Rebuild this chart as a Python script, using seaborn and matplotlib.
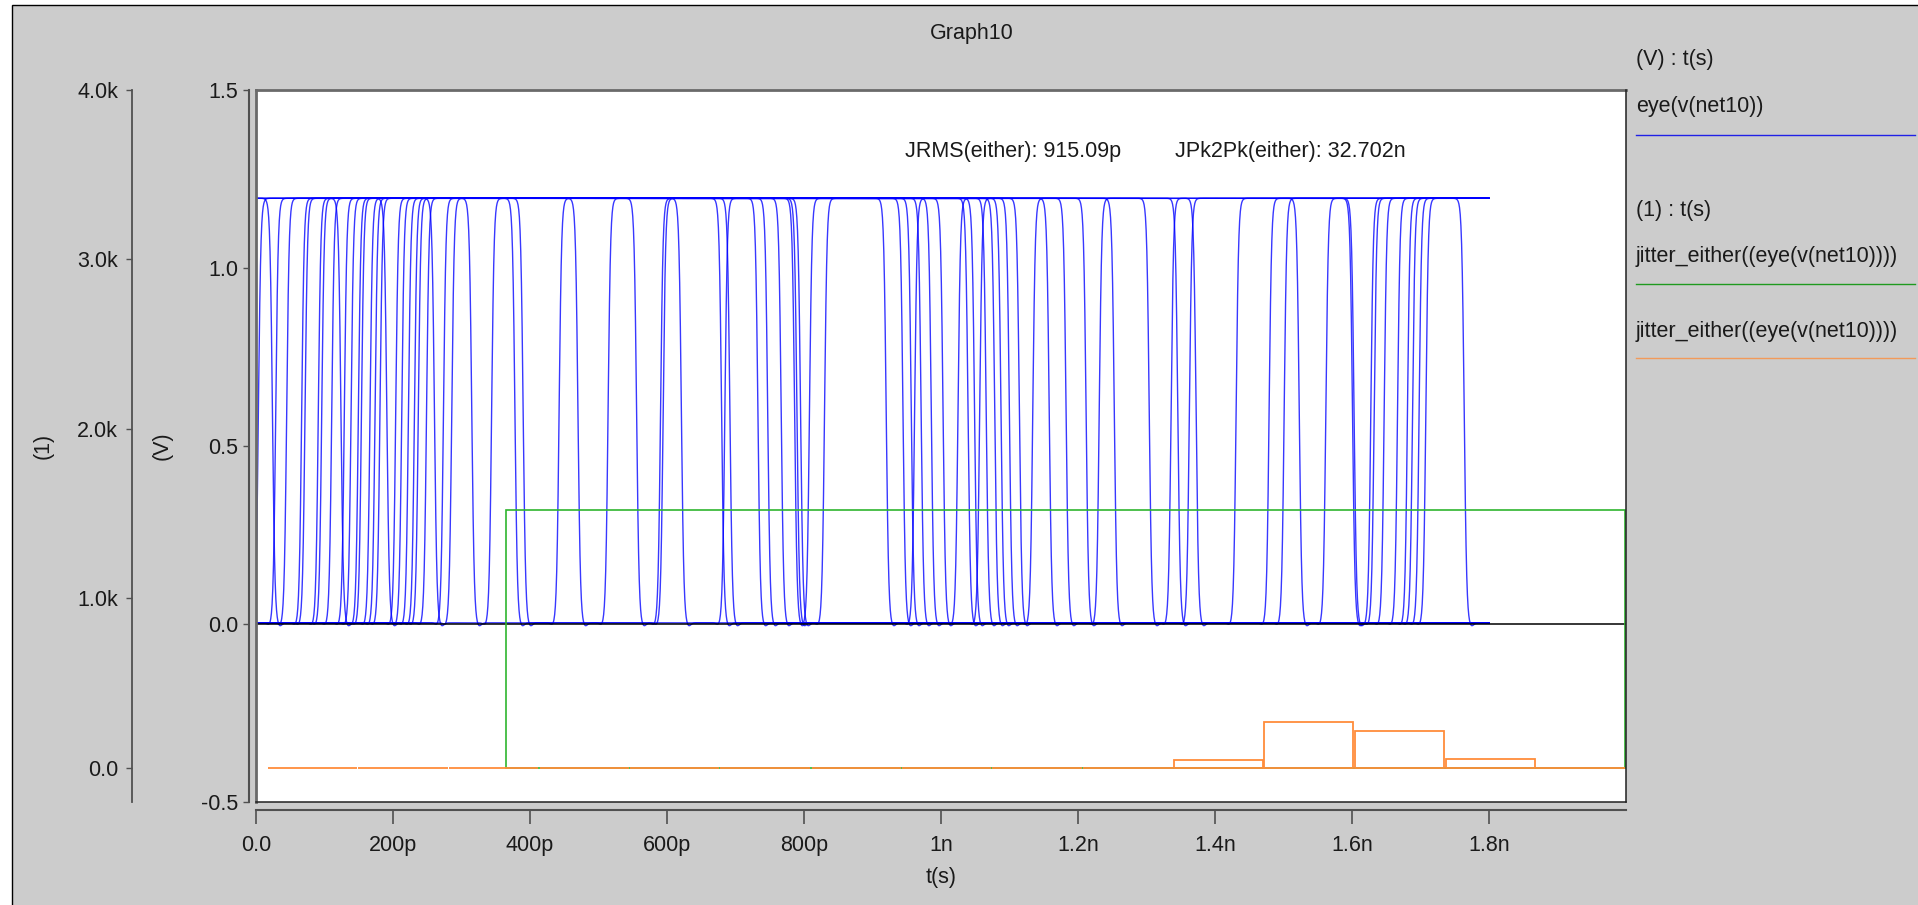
import numpy as np
import pandas as pd
import matplotlib
matplotlib.use("Agg")
import matplotlib.pyplot as plt
from matplotlib.patches import Rectangle
from matplotlib.lines import Line2D
import seaborn as sns

# ---------------- data ----------------
# eye(v(net10)): mid-level crossing times (ps) inside the 1.8 ns eye window
rise_ps = [3.5, 28.8, 44.8, 66.7, 71.6, 91, 96, 110.6, 129, 138.8, 149.5, 154,
           166.5, 173.8, 181, 204, 212.8, 222.6, 231.3, 237, 249, 273.7, 285.8, 344,
           442.5, 514, 590.6, 594.4, 684.5,
           808, 830, 961.5, 1024.8, 1056.5,
           1134, 1231, 1335.9, 1362.6, 1430.8,
           1479, 1501, 1561.8, 1627.5, 1632.4, 1647, 1666.5, 1681, 1688.4, 1698,
           1707.8]
fall_ps = [24, 124, 191, 260.5, 315,
           378, 390, 470, 555.6, 621, 679.7, 691.8,
           732.7, 747, 766.7, 786.3, 789.7, 795, 920, 944.5, 956.6, 971, 985.8,
           1003, 1039.5, 1049, 1066, 1078.4,
           1087.6, 1099.8, 1114.4, 1158, 1182.6, 1211.8, 1253, 1304, 1345.7, 1372.4,
           1523, 1600.7, 1603, 1763.8]
v_high = 1.196
v_low = 0.004
eye_window_ps = 1800
traces_high_at_start = 3
traces_low_at_start = 20

# jitter_either histograms, counts read on the (1) axis
orange_edges_ps = [16, 148, 281, 413, 545, 677, 810, 942, 1074, 1207, 1339,
                   1471, 1603, 1736, 1868, 2000]
orange_counts = [0, 0, 0, 0, 0, 0, 0, 0, 0, 0, 47, 267, 214, 53, 0]
green_edges_ps = [365, 1998]
green_counts = [1522]

# axis ticks and labels
x_ticks_ps = [0, 200, 400, 600, 800, 1000, 1200, 1400, 1600, 1800]
x_tick_labels = ["0.0", "200p", "400p", "600p", "800p", "1n", "1.2n", "1.4n", "1.6n", "1.8n"]
v_ticks = [-0.5, 0.0, 0.5, 1.0, 1.5]
v_tick_labels = ["-0.5", "0.0", "0.5", "1.0", "1.5"]
n_ticks = [0, 1000, 2000, 3000, 4000]
n_tick_labels = ["0.0", "1.0k", "2.0k", "3.0k", "4.0k"]

jrms_text = "JRMS(either): 915.09p"
jpk_text = "JPk2Pk(either): 32.702n"

# ---------------- style ----------------
plt.rcParams["font.family"] = ["Liberation Sans", "DejaVu Sans"]
TXT = "#1a1a1a"
AX = "#505050"
BG = "#cccccc"
BLUE = "#0000ff"
GREEN = "#2fb52f"
ORANGE = "#ff8c3a"
FS = 15.5

W, H = 1918, 905
fig = plt.figure(figsize=(W / 100, H / 100), dpi=100, facecolor="white")


def fx(x):
    return x / W


def fy(y):
    return 1 - y / H


# grey panel with thin black border
fig.patches.append(Rectangle((fx(12), -0.02), 1.05, fy(5) + 0.02, transform=fig.transFigure,
                             facecolor=BG, edgecolor="black", linewidth=1.0, zorder=-10))

# plot area in pixels
L, R, T, B = 256, 1626, 90, 802.3
ax = fig.add_axes([fx(L), fy(B), fx(R) - fx(L), fy(T) - fy(B)])
ax.set_facecolor("white")

# ---------------- eye traces ----------------
t = np.arange(0, eye_window_ps + 0.25, 0.5)
events = sorted([(x, 1) for x in rise_ps] + [(x, -1) for x in fall_ps])
pool = ([{"start": 1, "level": 1, "last": -np.inf, "edges": []} for _ in range(traces_high_at_start)] +
        [{"start": 0, "level": 0, "last": -np.inf, "edges": []} for _ in range(traces_low_at_start)])
for te, d in events:
    need = 0 if d > 0 else 1
    tr = min((p for p in pool if p["level"] == need), key=lambda p: p["last"])
    tr["edges"].append((te, d))
    tr["level"] = 1 - need
    tr["last"] = te

swing = v_high - v_low
frames = []
for i, tr in enumerate(pool):
    v = np.full(t.shape, v_high if tr["start"] else v_low)
    for te, d in tr["edges"]:
        v = v + d * swing * 0.5 * (1 + np.tanh((t - te) / 3.6))
        if d < 0:
            v = v - 0.011 * np.exp(-((t - te - 10) / 5.0) ** 2)
        else:
            v = v - 0.009 * np.exp(-((t - te + 8) / 5.0) ** 2)
    frames.append(pd.DataFrame({"t_ps": t, "v": v, "trace": i}))
eye = pd.concat(frames, ignore_index=True)

sns.lineplot(data=eye, x="t_ps", y="v", units="trace", estimator=None, sort=False,
             color=BLUE, linewidth=1.0, alpha=0.78, ax=ax, legend=False)
ax.axhline(0.0, color="black", linewidth=1.1, zorder=4)

# ---------------- histograms on the (1) axis ----------------
ax2 = ax.twinx()
g_centers = [(green_edges_ps[0] + green_edges_ps[1]) / 2]
sns.histplot(x=g_centers, weights=green_counts, bins=green_edges_ps, element="bars",
             fill=False, color=GREEN, linewidth=1.2, ax=ax2)
o_centers = [(a + b) / 2 for a, b in zip(orange_edges_ps[:-1], orange_edges_ps[1:])]
sns.histplot(x=o_centers, weights=orange_counts, bins=orange_edges_ps, element="bars",
             fill=False, shrink=0.985, color=ORANGE, linewidth=1.3, ax=ax2)

# ---------------- axes ----------------
ax.set_xlim(0, 2000)
ax.set_ylim(-0.5, 1.5)
ax2.set_ylim(-205, 4000)
ax2.set_xlim(0, 2000)

for s in ["top", "right"]:
    ax.spines[s].set_visible(False)
ax.spines["left"].set_position(("outward", 4.8))
ax.spines["bottom"].set_position(("outward", 5.5))
for s in ["left", "bottom"]:
    ax.spines[s].set_color(AX)
    ax.spines[s].set_linewidth(1.5)

ax.set_xticks(x_ticks_ps)
ax.set_xticklabels(x_tick_labels)
ax.set_yticks(v_ticks)
ax.set_yticklabels(v_tick_labels)
ax.tick_params(axis="y", direction="out", length=4.3, width=1.0, color=AX,
               labelsize=FS, labelcolor=TXT, pad=3.6)
ax.tick_params(axis="x", direction="out", length=10, width=1.2, color=AX,
               labelsize=FS, labelcolor=TXT, pad=8)

ax.set_xlabel("t(s)", fontsize=FS, color=TXT)
ax.xaxis.label.set_va("center")
ax.xaxis.set_label_coords(0.5, (B - 878) / (B - T))
ax.set_ylabel("(V)", fontsize=FS, color=TXT)
ax.yaxis.label.set_va("center")
ax.yaxis.set_label_coords((161.7 - L) / (R - L), 0.5)

for s in ["top", "right", "bottom"]:
    ax2.spines[s].set_visible(False)
ax2.spines["left"].set_visible(True)
ax2.spines["left"].set_position(("outward", 89.1))
ax2.spines["left"].set_color(AX)
ax2.spines["left"].set_linewidth(1.3)
ax2.yaxis.tick_left()
ax2.yaxis.set_label_position("left")
ax2.set_yticks(n_ticks)
ax2.set_yticklabels(n_tick_labels)
ax2.tick_params(axis="y", direction="out", length=4.3, width=1.0, color=AX,
                labelsize=FS, labelcolor=TXT, pad=5.8)
ax2.set_ylabel("(1)", fontsize=FS, color=TXT)
ax2.yaxis.label.set_va("center")
ax2.yaxis.set_label_coords((42.8 - L) / (R - L), 0.5)
ax2.set_xlabel("")

# plot frame
frame = [((0, 0), (0, 1), "#6a6a6a", 2.0), ((0, 1), (1, 1), "#6a6a6a", 2.0),
         ((1, 1), (1, 0), "#202020", 1.1), ((1, 0), (0, 0), "#202020", 1.1)]
for (x0, y0), (x1, y1), c, lw in frame:
    ax2.add_line(Line2D([x0, x1], [y0, y1], transform=ax2.transAxes, color=c,
                        linewidth=lw, clip_on=False, zorder=6))

# ---------------- texts ----------------
fig.text(fx(972), fy(33), "Graph10", ha="center", va="center", fontsize=FS, color=TXT)
ax.text((905 - L) / (R - L), (B - 151) / (B - T), jrms_text, transform=ax.transAxes,
        ha="left", va="center", fontsize=FS, color=TXT)
ax.text((1175 - L) / (R - L), (B - 151) / (B - T), jpk_text, transform=ax.transAxes,
        ha="left", va="center", fontsize=FS, color=TXT)

# legend column
lx0, lx1 = 1636, 1915
legend_rows = [
    ("(V) : t(s)", 60, None, None),
    ("eye(v(net10))", 106.4, 134.5, "#2020e6"),
    ("(1) : t(s)", 210.4, None, None),
    ("jitter_either((eye(v(net10))))", 256.9, 283.8, "#1f9a1f"),
    ("jitter_either((eye(v(net10))))", 331.5, 358.4, "#f29a5a"),
]
for label, ty, ly, lc in legend_rows:
    fig.text(fx(lx0), fy(ty), label, ha="left", va="center", fontsize=FS, color=TXT)
    if ly is not None:
        fig.add_artist(Line2D([fx(lx0), fx(lx1)], [fy(ly), fy(ly)], transform=fig.transFigure,
                              color=lc, linewidth=1.0))

fig.savefig("out.png", dpi=100, facecolor=fig.get_facecolor())
